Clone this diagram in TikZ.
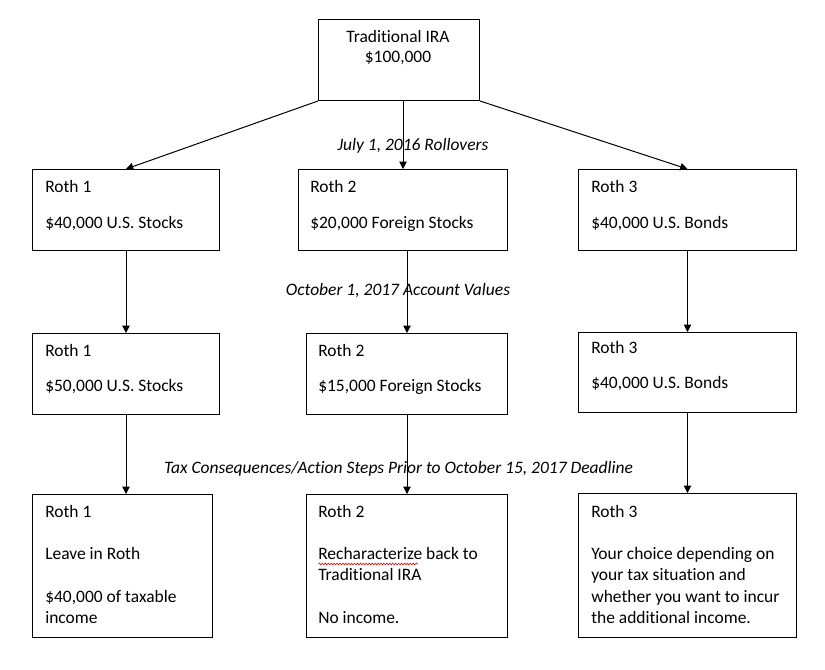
\documentclass[tikz,border=0pt]{standalone}
\usepackage{fontspec}
\setmainfont{Carlito}[Ligatures=NoCommon]
\usetikzlibrary{arrows.meta,decorations.pathmorphing}
\begin{document}
\begin{tikzpicture}[x=0.75pt,y=-0.75pt,
  box/.style={draw,line width=0.75pt,inner sep=0pt,anchor=north west},
  txt/.style={anchor=base west,inner sep=0pt,font=\fontsize{13.1pt}{15pt}\selectfont},
  ctxt/.style={anchor=base,inner sep=0pt,font=\fontsize{13.1pt}{15pt}\selectfont},
  lbl/.style={anchor=base,inner sep=0pt,font=\fontsize{13.1pt}{15pt}\selectfont\itshape},
  arr/.style={line width=0.75pt,-{Triangle[width=5.5pt,length=5.5pt]}},
  ln/.style={line width=0.75pt}]
\useasboundingbox (0,0) rectangle (825,669);
\fill[white] (0,0) rectangle (825,669);
% boxes
\node[box,minimum width=161pt*0.75,minimum height=81pt*0.75] (top) at (318,19) {};
\node[box,minimum width=187pt*0.75,minimum height=81pt*0.75] (r1a) at (32,169) {};
\node[box,minimum width=209pt*0.75,minimum height=81pt*0.75] (r2a) at (298,169) {};
\node[box,minimum width=218pt*0.75,minimum height=81pt*0.75] (r3a) at (578,169) {};
\node[box,minimum width=187pt*0.75,minimum height=81pt*0.75] (r1b) at (32,333) {};
\node[box,minimum width=201pt*0.75,minimum height=81pt*0.75] (r2b) at (306,333) {};
\node[box,minimum width=218pt*0.75,minimum height=80pt*0.75] (r3b) at (578,332) {};
\node[box,minimum width=180pt*0.75,minimum height=143pt*0.75] (r1c) at (32,494) {};
\node[box,minimum width=201pt*0.75,minimum height=143pt*0.75] (r2c) at (306,494) {};
\node[box,minimum width=218pt*0.75,minimum height=144pt*0.75] (r3c) at (578,493) {};
% texts
\node[ctxt] (t1) at (398,42.5) {Traditional IRA};
\node[ctxt] (t2) at (398,62.5) {\$100,000};
\node[txt] (a1) at (45,192) {Roth 1};
\node[txt] (a2) at (45,228) {\$40,000 U.S. Stocks};
\node[txt] (b1) at (310,192) {Roth 2};
\node[txt] (b2) at (310,228) {\$20,000 Foreign Stocks};
\node[txt] (c1) at (591,192) {Roth 3};
\node[txt] (c2) at (591,228) {\$40,000 U.S. Bonds};
\node[txt] (d1) at (45,356) {Roth 1};
\node[txt] (d2) at (45,391) {\$50,000 U.S. Stocks};
\node[txt] (e1) at (318,356) {Roth 2};
\node[txt] (e2) at (318,391) {\$15,000 Foreign Stocks};
\node[txt] (f1) at (591,353) {Roth 3};
\node[txt] (f2) at (591,388) {\$40,000 U.S. Bonds};
\node[txt] (g1) at (45,517) {Roth 1};
\node[txt] (g2) at (45,559) {Leave in Roth};
\node[txt] (g3) at (45,602) {\$40,000 of taxable};
\node[txt] (g4) at (45,623) {income};
\node[txt] (h1) at (318,517) {Roth 2};
\node[txt] (h2) at (318,559) {Recharacterize back to};
\node[txt] (h3) at (318,580.5) {Traditional IRA};
\node[txt] (h4) at (318,623) {No income.};
\node[txt] (k1) at (591,517) {Roth 3};
\node[txt] (k2) at (591,559) {Your choice depending on};
\node[txt] (k3) at (591,580.5) {your tax situation and};
\node[txt] (k4) at (591,602) {whether you want to incur};
\node[txt] (k5) at (591,623.5) {the additional income.};
% spell-check squiggle
\coordinate (sq1) at (318.5,564);
\coordinate (sq2) at (418,564);
\draw[red!80!black,line width=0.4pt,decorate,decoration={snake,amplitude=0.7pt,segment length=2.2pt}] (sq1) -- (sq2);
% connectors
\draw[arr] (top.south west) -- (r1a.north);
\draw[arr] (r2a.north |- top.south) -- (r2a.north);
\draw[arr] (top.south east) -- (r3a.north);
\draw[arr] (r1b.north |- r1a.south) -- (r1b.north);
\draw[arr] (r2b.north |- r2a.south) -- (r2b.north);
\draw[arr] (r3b.north |- r3a.south) -- (r3b.north);
\draw[arr] (r1b.south) -- (r1b.south |- r1c.north);
\draw[arr] (r2b.south) -- (r2b.south |- r2c.north);
\draw[arr] (r3b.south) -- (r3b.south |- r3c.north);
% labels (drawn over lines)
\node[lbl] (l1) at (413,150) {July 1, 2016 Rollovers};
\node[lbl] (l2) at (398,295) {October 1, 2017 Account Values};
\node[lbl] (l3) at (398.5,473) {Tax Consequences/Action Steps Prior to October 15, 2017 Deadline};
\end{tikzpicture}
\end{document}
